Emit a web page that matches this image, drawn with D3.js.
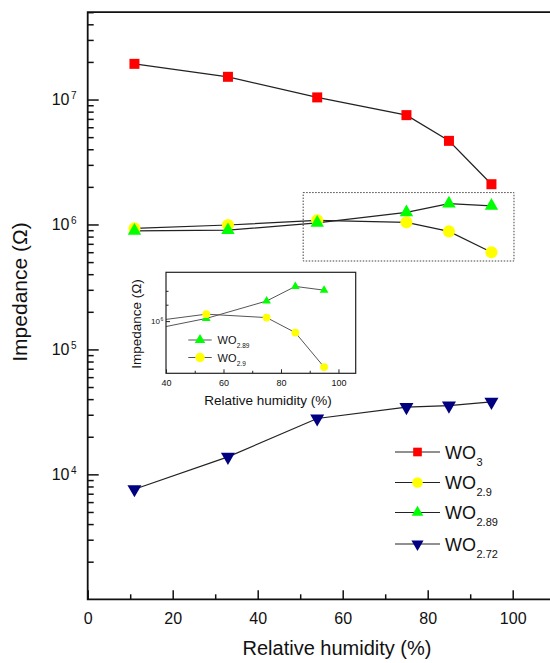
<!DOCTYPE html>
<html>
<head>
<meta charset="utf-8">
<script src="https://cdn.jsdelivr.net/npm/d3@7"></script>
<style>
body { margin: 0; background: #fff; }
text { font-family: Arial, "Liberation Sans", sans-serif; fill: #111; }
</style>
</head>
<body>
<svg id="chart" width="550" height="663"></svg>
<script>
// data
const humidity = [11, 33, 54, 75, 85, 95];
const wo3 = [1.93e7, 1.52e7, 1.04e7, 7.5e6, 4.67e6, 2.1e6];
const wo29 = [9.3e5, 9.9e5, 1.08e6, 1.04e6, 8.8e5, 6.0e5];
const wo289 = [8.9e5, 9.0e5, 1.03e6, 1.25e6, 1.47e6, 1.41e6];
const wo272 = [7.6e3, 1.38e4, 2.8e4, 3.45e4, 3.55e4, 3.8e4];
const subs = ["3", "2.9", "2.89", "2.72"];
const colors = ["#ff0000", "#ffff00", "#00ff00", "#000080"];
const xTicks = [0, 20, 40, 60, 80, 100];
const xMinor = [10, 30, 50, 70, 90];
const yExp = [4, 5, 6, 7];
const boxX = [50.7, 100.3];
const boxY = [5.1e5, 1.8e6];
const insetXTicks = [40, 60, 80, 100];
const insetXMinor = [50, 70, 90];
const insetYMinor = [1.2e6, 1.4e6];

const svg = d3.select('#chart');

const x = d3.scaleLinear().domain([0, 110]).range([87.7, 555.2]);
const y = d3.scaleLog().domain([1e3, 5e7]).range([599.3, 12.2]);

const series = [
    {vals: wo3, sym: d3.symbolSquare, size: 100, rot: 0},
    {vals: wo29, sym: d3.symbolCircle, size: 115, rot: 0},
    {vals: wo289, sym: d3.symbolTriangle, size: 78, rot: 0},
    {vals: wo272, sym: d3.symbolTriangle, size: 85, rot: 180}
];

// minor y ticks
const yMinorVals = [];
for (let e = 3; e < 8; e++) for (let m = 2; m <= 9; m++) {
    const v = m * Math.pow(10, e);
    if (v <= 5e7) yMinorVals.push(v);
}

const yMinorAxis = d3.axisLeft(y).tickValues(yMinorVals).tickSize(-6).tickFormat("");
const yMajorAxis = d3.axisLeft(y).tickValues(yExp.map(e => Math.pow(10, e))).tickSize(-11).tickFormat("");
svg.append('g').attr('transform', `translate(${x(0)},0)`).call(yMinorAxis)
    .call(g => g.select('.domain').remove())
    .selectAll('line').attr('stroke', '#111').attr('stroke-width', 1.5);
svg.append('g').attr('transform', `translate(${x(0)},0)`).call(yMajorAxis)
    .call(g => g.select('.domain').remove())
    .selectAll('line').attr('stroke', '#111').attr('stroke-width', 1.5);

const xMinorAxis = d3.axisBottom(x).tickValues(xMinor).tickSize(-5).tickFormat("");
const xMajorAxis = d3.axisBottom(x).tickValues(xTicks).tickSize(-9).tickPadding(13).tickFormat(d3.format("d"));
svg.append('g').attr('transform', `translate(0,${y(1e3)})`).call(xMinorAxis)
    .call(g => g.select('.domain').remove())
    .selectAll('line').attr('stroke', '#111').attr('stroke-width', 1.5);
const gx = svg.append('g').attr('transform', `translate(0,${y(1e3)})`).call(xMajorAxis)
    .call(g => g.select('.domain').remove());
gx.selectAll('line').attr('stroke', '#111').attr('stroke-width', 1.5);
gx.selectAll('text').attr('font-size', 16).attr('font-family', 'Arial, "Liberation Sans", sans-serif').attr('fill', '#111');

// frame
svg.append('path')
    .attr('d', `M550,${y(5e7)}H${x(0)}V${y(1e3)}H550`)
    .attr('fill', 'none').attr('stroke', '#111').attr('stroke-width', 1.8);

// y tick labels 10^n
const yl = svg.append('g').selectAll('text').data(yExp).join('text')
    .attr('x', 51.7).attr('y', d => y(Math.pow(10, d)) + 5.8)
    .attr('font-size', 16);
yl.append('tspan').text('10');
yl.append('tspan').attr('font-size', 10).attr('dx', 1.5).attr('dy', -6).text(d => d);

// axis titles
svg.append('text').attr('transform', 'translate(27,292) rotate(-90)')
    .attr('text-anchor', 'middle').attr('font-size', 21).text('Impedance (\u03A9)');
svg.append('text').attr('x', 337).attr('y', 655)
    .attr('text-anchor', 'middle').attr('font-size', 20).text('Relative humidity (%)');

// zoom box
svg.append('rect')
    .attr('x', x(boxX[0])).attr('y', y(boxY[1]))
    .attr('width', x(boxX[1]) - x(boxX[0])).attr('height', y(boxY[0]) - y(boxY[1]))
    .attr('fill', 'none').attr('stroke', '#444').attr('stroke-width', 1).attr('stroke-dasharray', '1.5,1.5');

// series lines and markers
const line = d3.line().x((d, i) => x(humidity[i])).y(d => y(d));
series.forEach((s, k) => {
    svg.append('path').datum(s.vals).attr('d', line)
        .attr('fill', 'none').attr('stroke', '#222').attr('stroke-width', 1.2);
});
series.forEach((s, k) => {
    svg.append('g').selectAll('path').data(s.vals).join('path')
        .attr('d', d3.symbol().type(s.sym).size(s.size))
        .attr('transform', (d, i) => `translate(${x(humidity[i])},${y(d)}) rotate(${s.rot})`)
        .attr('fill', colors[k]);
});

// legend
const legY = [452, 482.5, 512.5, 544];
series.forEach((s, k) => {
    const g = svg.append('g').attr('transform', `translate(0,${legY[k]})`);
    g.append('line').attr('x1', 395).attr('x2', 440).attr('y1', 0).attr('y2', 0)
        .attr('stroke', '#222').attr('stroke-width', 1.2);
    g.append('path').attr('d', d3.symbol().type(s.sym).size(s.size * 0.75))
        .attr('transform', `translate(417.5,0) rotate(${s.rot})`).attr('fill', colors[k]);
    const t = g.append('text').attr('x', 445).attr('y', 6.5).attr('font-size', 18);
    t.append('tspan').text('WO');
    t.append('tspan').attr('font-size', 11).attr('dx', 0.5).attr('dy', 7).text(subs[k]);
});

// inset
const ix = d3.scaleLinear().domain([40, 106]).range([166, 355.7]);
const iy = d3.scaleLog().domain([5.6e5, 1.72e6]).range([373.3, 272.3]);
const inset = svg.append('g');
inset.append('rect').attr('x', ix(40)).attr('y', iy(1.72e6))
    .attr('width', ix(106) - ix(40)).attr('height', iy(5.6e5) - iy(1.72e6))
    .attr('fill', '#fff');
inset.append('clipPath').attr('id', 'insetClip').append('rect')
    .attr('x', ix(40)).attr('y', iy(1.72e6))
    .attr('width', ix(106) - ix(40)).attr('height', iy(5.6e5) - iy(1.72e6));

const insetSeries = [{vals: wo289, k: 2}, {vals: wo29, k: 1}];
const iline = d3.line().x((d, i) => ix(humidity[i])).y(d => iy(d));
const plotArea = inset.append('g').attr('clip-path', 'url(#insetClip)');
insetSeries.forEach(s => {
    plotArea.append('path').datum(s.vals).attr('d', iline)
        .attr('fill', 'none').attr('stroke', '#555').attr('stroke-width', 1);
});
insetSeries.forEach(s => {
    const ser = series[s.k];
    plotArea.append('g').selectAll('path').data(s.vals).join('path')
        .attr('d', d3.symbol().type(ser.sym).size(ser.size * 0.42))
        .attr('transform', (d, i) => `translate(${ix(humidity[i])},${iy(d)})`)
        .attr('fill', colors[s.k]);
});

const ixMajor = d3.axisBottom(ix).tickValues(insetXTicks).tickSize(-4).tickPadding(6).tickFormat(d3.format("d"));
const ixMinor = d3.axisBottom(ix).tickValues(insetXMinor).tickSize(-2.5).tickFormat("");
inset.append('g').attr('transform', `translate(0,${iy(5.6e5)})`).call(ixMinor)
    .call(g => g.select('.domain').remove()).selectAll('line').attr('stroke', '#222');
const gix = inset.append('g').attr('transform', `translate(0,${iy(5.6e5)})`).call(ixMajor)
    .call(g => g.select('.domain').remove());
gix.selectAll('line').attr('stroke', '#222');
gix.selectAll('text').attr('font-size', 9).attr('font-family', 'Arial, "Liberation Sans", sans-serif').attr('fill', '#111');

const iyAxis = d3.axisLeft(iy).tickValues([1e6]).tickSize(-4).tickFormat("");
const iyMinorAxis = d3.axisLeft(iy).tickValues(insetYMinor).tickSize(-2.5).tickFormat("");
inset.append('g').attr('transform', `translate(${ix(40)},0)`).call(iyAxis)
    .call(g => g.select('.domain').remove()).selectAll('line').attr('stroke', '#222');
inset.append('g').attr('transform', `translate(${ix(40)},0)`).call(iyMinorAxis)
    .call(g => g.select('.domain').remove()).selectAll('line').attr('stroke', '#222');

const il = inset.append('text').attr('x', 151).attr('y', iy(1e6) + 3).attr('font-size', 8);
il.append('tspan').text('10');
il.append('tspan').attr('font-size', 5).attr('dx', 0.5).attr('dy', -3.5).text('6');

inset.append('rect').attr('x', ix(40)).attr('y', iy(1.72e6))
    .attr('width', ix(106) - ix(40)).attr('height', iy(5.6e5) - iy(1.72e6))
    .attr('fill', 'none').attr('stroke', '#222').attr('stroke-width', 1.2);

inset.append('text').attr('transform', 'translate(141,324) rotate(-90)')
    .attr('text-anchor', 'middle').attr('font-size', 13.5).text('Impedance (\u03A9)');
inset.append('text').attr('x', 268).attr('y', 404.5)
    .attr('text-anchor', 'middle').attr('font-size', 13.5).text('Relative humidity (%)');

// inset legend
const iLegY = [340, 357.5];
const iLegSubs = ["2.89", "2.9"];
insetSeries.forEach((s, j) => {
    const ser = series[s.k];
    const g = inset.append('g').attr('transform', `translate(0,${iLegY[j]})`);
    g.append('line').attr('x1', 188.3).attr('x2', 211.7).attr('y1', 0).attr('y2', 0)
        .attr('stroke', '#555').attr('stroke-width', 1);
    g.append('path').attr('d', d3.symbol().type(ser.sym).size(ser.size * 0.62))
        .attr('transform', 'translate(200,0)').attr('fill', colors[s.k]);
    const t = g.append('text').attr('x', 217.5).attr('y', 4).attr('font-size', 11);
    t.append('tspan').text('WO');
    t.append('tspan').attr('font-size', 6.5).attr('dx', 0.3).attr('dy', 4).text(iLegSubs[j]);
});
</script>
</body>
</html>
